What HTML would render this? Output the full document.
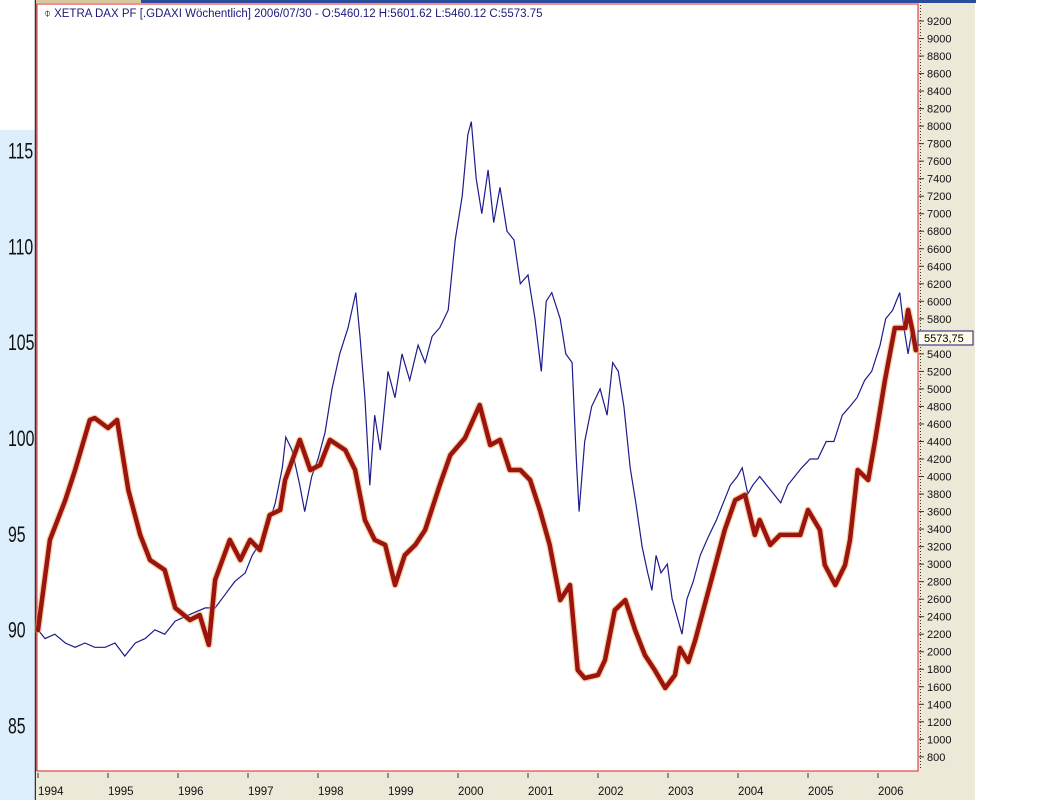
<!DOCTYPE html>
<html><head><meta charset="utf-8"><style>
html,body{margin:0;padding:0;background:#fff;}
svg{display:block;font-family:"Liberation Sans",sans-serif;}
</style></head><body>
<svg id="chart" width="1040" height="800" viewBox="0 0 1040 800" xmlns="http://www.w3.org/2000/svg">
<rect x="0" y="0" width="1040" height="800" fill="#fff"/>
<rect x="0" y="130" width="35" height="670" fill="#ddeefd"/>
<line x1="35.5" y1="0" x2="35.5" y2="800" stroke="#333" stroke-width="1.5"/>
<rect x="36" y="0" width="940" height="3" fill="#2b4c9a"/>
<rect x="36" y="0" width="105" height="3" fill="#d8c8a0"/>
<rect x="918" y="3" width="57" height="797" fill="#ece9d8"/>
<rect x="36" y="771" width="939" height="29" fill="#ece9d8"/>
<rect x="37" y="4" width="881" height="767" fill="#fff" stroke="#e02020" stroke-width="1"/>
<text x="44" y="17" font-size="11.5" fill="#1a1a7a">⌽ XETRA DAX PF [.GDAXI  Wöchentlich] 2006/07/30 - O:5460.12 H:5601.62 L:5460.12 C:5573.75</text>
<g id="leftAxis"></g>
<g id="rightAxis"></g>
<g id="xAxis"></g>
<g id="series"></g>
<rect x="918" y="331" width="55" height="14" fill="#fffbe8" stroke="#1a1a7a" stroke-width="1"/>
<text x="924" y="342" font-size="11" fill="#000">5573,75</text>
</svg>
<script>
const years=[1994,1995,1996,1997,1998,1999,2000,2001,2002,2003,2004,2005,2006];
const leftTicks=[115,110,105,100,95,90,85];
const rightTicks=[9200,9000,8800,8600,8400,8200,8000,7800,7600,7400,7200,7000,6800,6600,6400,6200,6000,5800,5600,5400,5200,5000,4800,4600,4400,4200,4000,3800,3600,3400,3200,3000,2800,2600,2400,2200,2000,1800,1600,1400,1200,1000,800];
const daxDates=[1994.00,1994.10,1994.24,1994.39,1994.53,1994.67,1994.81,1994.96,1995.10,1995.24,1995.39,1995.53,1995.67,1995.81,1995.96,1996.10,1996.24,1996.39,1996.53,1996.67,1996.81,1996.96,1997.06,1997.14,1997.24,1997.39,1997.49,1997.54,1997.63,1997.74,1997.81,1997.91,1998.00,1998.10,1998.20,1998.31,1998.43,1998.54,1998.60,1998.67,1998.74,1998.81,1998.89,1999.00,1999.10,1999.20,1999.31,1999.43,1999.53,1999.63,1999.74,1999.86,1999.96,2000.06,2000.14,2000.19,2000.26,2000.34,2000.43,2000.51,2000.60,2000.70,2000.80,2000.89,2001.00,2001.10,2001.19,2001.26,2001.34,2001.46,2001.54,2001.63,2001.69,2001.73,2001.81,2001.91,2002.03,2002.13,2002.21,2002.29,2002.37,2002.46,2002.54,2002.63,2002.71,2002.77,2002.83,2002.90,2002.99,2003.06,2003.13,2003.20,2003.27,2003.36,2003.46,2003.57,2003.69,2003.79,2003.89,2003.99,2004.06,2004.14,2004.21,2004.31,2004.41,2004.51,2004.61,2004.71,2004.81,2004.91,2005.03,2005.14,2005.26,2005.37,2005.49,2005.60,2005.70,2005.81,2005.91,2006.03,2006.11,2006.21,2006.31,2006.37,2006.43,2006.49,2006.54];
const daxValues=[2250,2150,2200,2100,2050,2100,2050,2050,2100,1950,2100,2150,2250,2200,2350,2400,2450,2500,2500,2650,2800,2900,3100,3200,3300,3700,4100,4450,4300,3900,3600,4000,4200,4500,5000,5400,5700,6100,5600,4900,3900,4700,4300,5200,4900,5400,5100,5500,5300,5600,5700,5900,6700,7200,7900,8050,7400,7000,7500,6900,7300,6800,6700,6200,6300,5800,5200,6000,6100,5800,5400,5300,4200,3600,4400,4800,5000,4700,5300,5200,4800,4100,3700,3200,2900,2700,3100,2900,3000,2600,2400,2200,2600,2800,3100,3300,3500,3700,3900,4000,4100,3800,3900,4000,3900,3800,3700,3900,4000,4100,4200,4200,4400,4400,4700,4800,4900,5100,5200,5500,5800,5900,6100,5700,5400,5700,5500];
const idxDates=[1994.00,1994.17,1994.39,1994.53,1994.74,1994.81,1995.00,1995.13,1995.29,1995.46,1995.60,1995.81,1995.96,1996.17,1996.31,1996.44,1996.53,1996.74,1996.89,1997.03,1997.17,1997.31,1997.46,1997.53,1997.74,1997.89,1998.03,1998.17,1998.39,1998.53,1998.67,1998.81,1998.96,1999.10,1999.24,1999.39,1999.53,1999.74,1999.89,2000.10,2000.31,2000.46,2000.60,2000.74,2000.89,2001.03,2001.17,2001.31,2001.46,2001.60,2001.71,2001.81,2002.00,2002.10,2002.24,2002.39,2002.53,2002.67,2002.81,2002.96,2003.10,2003.17,2003.29,2003.39,2003.60,2003.81,2003.96,2004.10,2004.24,2004.31,2004.46,2004.60,2004.74,2004.89,2005.00,2005.17,2005.24,2005.39,2005.53,2005.60,2005.71,2005.86,2005.96,2006.10,2006.24,2006.39,2006.43,2006.49,2006.54];
const idxValues=[89.98,94.68,96.76,98.33,100.94,101.04,100.52,100.94,97.29,94.94,93.63,93.11,91.13,90.50,90.76,89.20,92.59,94.68,93.63,94.68,94.15,95.98,96.24,97.81,99.90,98.33,98.59,99.90,99.37,98.33,95.72,94.68,94.42,92.33,93.89,94.42,95.20,97.55,99.11,100.00,101.72,99.63,99.90,98.33,98.33,97.81,96.24,94.42,91.54,92.33,87.89,87.47,87.63,88.41,91.02,91.54,89.98,88.67,87.89,86.95,87.63,89.04,88.31,89.46,92.33,95.20,96.76,97.03,94.94,95.72,94.42,94.94,94.94,94.94,96.24,95.20,93.37,92.33,93.37,94.68,98.33,97.81,99.90,103.03,105.74,105.74,106.68,105.64,104.59];

const NS="http://www.w3.org/2000/svg";
const xS=t=>38+(t-1994)*70;
const yL=v=>438-(v-100)*19.16;
const yR=v=>21+(9200-v)/200*17.52;
function mk(tag,attrs,parent){const e=document.createElementNS(NS,tag);for(const k in attrs)e.setAttribute(k,attrs[k]);parent.appendChild(e);return e;}

const la=document.getElementById('leftAxis');
leftTicks.forEach(v=>{
  const t=mk('text',{x:0,y:0,'font-size':22,fill:'#111',transform:`translate(8,${yL(v)+8}) scale(0.72,1)`},la);
  
  
  t.textContent=v;
});
const ra=document.getElementById('rightAxis');
mk('line',{x1:920.5,y1:5,x2:920.5,y2:770,stroke:'#333','stroke-width':1,'stroke-dasharray':'1,2'},ra);
rightTicks.forEach(v=>{
  const y=yR(v);
  mk('line',{x1:919,y1:y,x2:924,y2:y,stroke:'#333','stroke-width':1},ra);
  const t=mk('text',{x:927,y:y+4,'font-size':11,fill:'#111'},ra);
  
  
  t.textContent=v;
});
const xa=document.getElementById('xAxis');
years.forEach(yr=>{
  const x=xS(yr);
  mk('line',{x1:x,y1:773,x2:x,y2:778,stroke:'#333','stroke-width':1},xa);
  const t=mk('text',{x:x,y:795,'font-size':11.5,fill:'#111'},xa);
  
  
  t.textContent=yr;
});
const sg=document.getElementById('series');
const dDax=daxDates.map((t,i)=>(i?'L':'M')+xS(t).toFixed(1)+','+yR(daxValues[i]).toFixed(1)).join(' ');
const blue=mk('path',{d:dDax,fill:'none',stroke:'#1c1c8c','stroke-width':1.2},sg);


const dIdx=idxDates.map((t,i)=>(i?'L':'M')+xS(t).toFixed(1)+','+yL(idxValues[i]).toFixed(1)).join(' ');
const halo=mk('path',{d:dIdx,fill:'none',stroke:'#e8a040','stroke-width':7,'stroke-opacity':0.45,'stroke-linejoin':'round','stroke-linecap':'round'},sg);


const red=mk('path',{d:dIdx,fill:'none',stroke:'#9c1410','stroke-width':4.5,'stroke-linejoin':'round','stroke-linecap':'round'},sg);


</script>
</body></html>
